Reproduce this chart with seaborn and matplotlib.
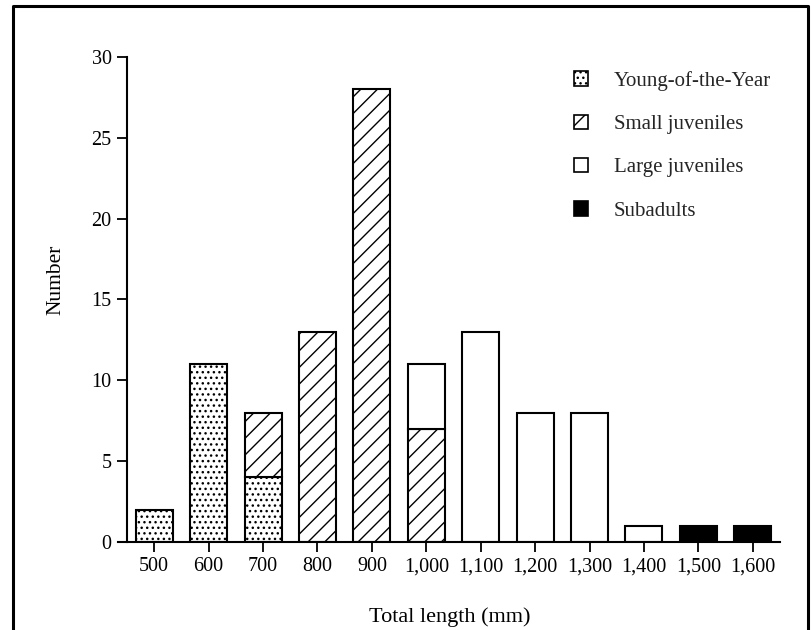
import numpy as np
import pandas as pd
import matplotlib
matplotlib.use("Agg")
import matplotlib.pyplot as plt
from matplotlib.patches import Patch
from matplotlib.lines import Line2D
import seaborn as sns

# total length classes (mm) and counts per life stage
lengths = ["500", "600", "700", "800", "900", "1,000", "1,100",
           "1,200", "1,300", "1,400", "1,500", "1,600"]
young_of_year = [2, 11, 4, 0, 0, 0, 0, 0, 0, 0, 0, 0]
small_juv = [0, 0, 4, 13, 28, 7, 0, 0, 0, 0, 0, 0]
large_juv = [0, 0, 0, 0, 0, 4, 13, 8, 8, 1, 0, 0]
subadults = [0, 0, 0, 0, 0, 0, 0, 0, 0, 0, 1, 1]

stages = ["Young-of-the-Year", "Small juveniles", "Large juveniles", "Subadults"]
counts = [young_of_year, small_juv, large_juv, subadults]
hatches = ["...", "//", "", ""]
fills = ["white", "white", "white", "black"]

sns.set_theme(style="ticks")
plt.rcParams["font.family"] = ["Liberation Serif", "DejaVu Serif"]
plt.rcParams["hatch.linewidth"] = 1.0
plt.rcParams["hatch.color"] = "black"

fig = plt.figure(figsize=(8.11, 6.3), dpi=100)
ax = fig.add_axes([127 / 811, 88 / 630, 653 / 811, 485 / 630])

bottom = np.zeros(len(lengths))
for stage, vals, h, fc in zip(stages, counts, hatches, fills):
    vals = np.array(vals, dtype=float)
    df = pd.DataFrame({"length": lengths, "n": vals})
    keep = vals > 0
    sns.barplot(data=df[keep], x="length", y="n", order=lengths, ax=ax,
                width=0.68, color=fc, edgecolor="black", linewidth=1.5,
                hatch=h, bottom=bottom[keep], saturation=1, errorbar=None)
    bottom += vals

ax.set_xlim(-0.5, len(lengths) - 0.5)
ax.set_ylim(0, 30)
ax.set_yticks(range(0, 31, 5))
ax.tick_params(axis="both", direction="out", length=7, width=1.3,
               labelsize=14.5, colors="black", pad=4)
for s in ["top", "right"]:
    ax.spines[s].set_visible(False)
for s in ["left", "bottom"]:
    ax.spines[s].set_linewidth(1.5)
    ax.spines[s].set_color("black")
ax.spines["bottom"].set_bounds(-0.66, len(lengths) - 0.5)

ax.set_xlabel("Total length (mm)", fontsize=16, color="black")
ax.xaxis.set_label_coords(0.495, -0.135)
ax.set_ylabel("Number", fontsize=15.5, color="black")
ax.yaxis.set_label_coords(-0.094, 0.54)

handles = [Patch(facecolor=fc, edgecolor="black", hatch=h, linewidth=1.2)
           for h, fc in zip(hatches, fills)]
fig.legend(handles, stages, loc="upper left",
           bbox_to_anchor=(555 / 811, 1 - 52 / 630), frameon=False,
           fontsize=15, handlelength=0.68, handleheight=0.68,
           handletextpad=1.25, labelspacing=1.15)

# outer frame (open at the bottom)
fx0, fx1, fy1 = 13 / 811, 808 / 811, 1 - 6 / 630
fig.add_artist(Line2D([fx0, fx0, fx1, fx1], [0, fy1, fy1, 0],
                      transform=fig.transFigure, color="black", lw=2.2))

fig.savefig("out.png", dpi=100)
